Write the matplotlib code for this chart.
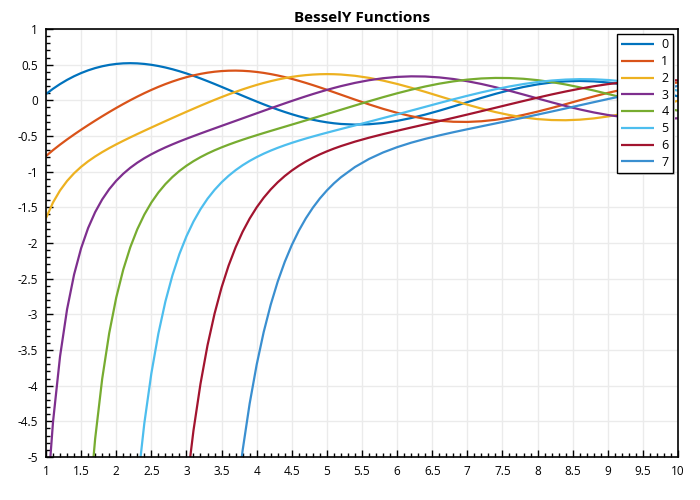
import matplotlib
matplotlib.use("Agg")
import matplotlib.pyplot as plt
from matplotlib.ticker import MultipleLocator, FuncFormatter

x = [1.0, 1.1, 1.2, 1.3, 1.4, 1.5, 1.6, 1.7, 1.8, 1.9,
     2.0, 2.1, 2.2, 2.3, 2.4, 2.5, 2.6, 2.7, 2.8, 2.9,
     3.0, 3.1, 3.2, 3.3, 3.4, 3.5, 3.6, 3.7, 3.8, 3.9,
     4.0, 4.1, 4.2, 4.3, 4.4, 4.5, 4.6, 4.7, 4.8, 4.9,
     5.0, 5.1, 5.2, 5.4, 5.6, 5.8, 6.0, 6.2, 6.4, 6.6,
     6.8, 7.0, 7.2, 7.4, 7.6, 7.8, 8.0, 8.2, 8.4, 8.6,
     8.8, 9.0, 9.2, 9.4, 9.6, 9.8, 10.0]

y0 = [0.0883, 0.1622, 0.2281, 0.2866, 0.3379, 0.3824, 0.4204, 0.4520, 0.4774, 0.4968,
      0.5104, 0.5183, 0.5208, 0.5181, 0.5104, 0.4981, 0.4813, 0.4605, 0.4359, 0.4079,
      0.3769, 0.3432, 0.3071, 0.2691, 0.2296, 0.1890, 0.1477, 0.1061, 0.0645, 0.0234,
      -0.0169, -0.0561, -0.0938, -0.1296, -0.1633, -0.1947, -0.2235, -0.2494, -0.2723, -0.2920,
      -0.3085, -0.3216, -0.3313, -0.3402, -0.3354, -0.3177, -0.2882, -0.2483, -0.2000, -0.1452,
      -0.0864, -0.0259, 0.0339, 0.0907, 0.1424, 0.1872, 0.2235, 0.2501, 0.2662, 0.2715,
      0.2659, 0.2499, 0.2245, 0.1908, 0.1505, 0.1052, 0.0557]

y1 = [-0.7812, -0.6981, -0.6211, -0.5485, -0.4791, -0.4123, -0.3476, -0.2848, -0.2237, -0.1644,
      -0.1070, -0.0517, 0.0015, 0.0523, 0.1005, 0.1459, 0.1884, 0.2276, 0.2635, 0.2959,
      0.3247, 0.3496, 0.3707, 0.3878, 0.4010, 0.4102, 0.4154, 0.4167, 0.4141, 0.4078,
      0.3979, 0.3846, 0.3680, 0.3484, 0.3260, 0.3010, 0.2737, 0.2444, 0.2135, 0.1812,
      0.1479, 0.1138, 0.0792, 0.0102, -0.0569, -0.1194, -0.1750, -0.2223, -0.2596, -0.2859,
      -0.3002, -0.3027, -0.2935, -0.2731, -0.2429, -0.2040, -0.1581, -0.1073, -0.0537, 0.0011,
      0.0542, 0.1043, 0.1489, 0.1864, 0.2154, 0.2380, 0.2490]

y2 = [-1.6507, -1.4315, -1.2633, -1.1304, -1.0223, -0.9321, -0.8549, -0.7871, -0.7260, -0.6699,
      -0.6174, -0.5675, -0.5194, -0.4726, -0.4266, -0.3813, -0.3364, -0.2919, -0.2477, -0.2038,
      -0.1604, -0.1177, -0.0754, -0.0341, 0.0063, 0.0454, 0.0831, 0.1191, 0.1534, 0.1857,
      0.2159, 0.2437, 0.2690, 0.2916, 0.3115, 0.3285, 0.3425, 0.3534, 0.3613, 0.3660,
      0.3677, 0.3662, 0.3618, 0.3440, 0.3151, 0.2765, 0.2299, 0.1766, 0.1189, 0.0586,
      -0.0019, -0.0605, -0.1154, -0.1645, -0.2063, -0.2395, -0.2630, -0.2763, -0.2790, -0.2712,
      -0.2536, -0.2267, -0.1921, -0.1511, -0.1056, -0.0566, -0.0059]

y3 = [-5.8216, -4.5074, -3.5899, -2.9297, -2.4418, -2.0733, -1.7897, -1.5672, -1.3896, -1.2459,
      -1.1278, -1.0293, -0.9459, -0.8742, -0.8115, -0.7560, -0.7059, -0.6600, -0.6174, -0.5770,
      -0.5386, -0.5015, -0.4650, -0.4291, -0.3936, -0.3583, -0.3231, -0.2879, -0.2526, -0.2173,
      -0.1820, -0.1468, -0.1118, -0.0771, -0.0428, -0.0090, 0.0241, 0.0564, 0.0876, 0.1176,
      0.1463, 0.1734, 0.1991, 0.2446, 0.2820, 0.3101, 0.3283, 0.3362, 0.3339, 0.3214,
      0.2991, 0.2681, 0.2294, 0.1842, 0.1343, 0.0812, 0.0266, -0.0275, -0.0792, -0.1272,
      -0.1695, -0.2051, -0.2324, -0.2507, -0.2594, -0.2611, -0.2514]

# starts at x = 1.5
y4 = [-7.3611, -5.8565, -4.7442, -3.9060, -3.2645,
      -2.7660, -2.3734, -2.0603, -1.8079, -1.6022, -1.4331, -1.2926, -1.1748, -1.0753, -0.9900,
      -0.9168, -0.8529, -0.7965, -0.7461, -0.7009, -0.6596, -0.6216, -0.5860, -0.5522, -0.5200,
      -0.4889, -0.4585, -0.4287, -0.3992, -0.3699, -0.3405, -0.3111, -0.2814, -0.2518, -0.2220,
      -0.1921, -0.1622, -0.1321, -0.0722, -0.0130, 0.0443, 0.0984, 0.1488, 0.1941, 0.2336,
      0.2658, 0.2903, 0.3066, 0.3139, 0.3123, 0.3020, 0.2830, 0.2562, 0.2224, 0.1825,
      0.1380, 0.0900, 0.0405, -0.0089, -0.0565, -0.1033, -0.1449]

# starts at x = 2.2
y5 = [-6.5461, -5.4142, -4.5292, -3.8299, -3.2713, -2.8209, -2.4549, -2.1540,
      -1.9062, -1.6995, -1.5263, -1.3796, -1.2556, -1.1494, -1.0582, -0.9791, -0.9099, -0.8494,
      -0.7958, -0.7478, -0.7048, -0.6656, -0.6297, -0.5963, -0.5651, -0.5354, -0.5073, -0.4800,
      -0.4537, -0.4278, -0.4023, -0.3516, -0.3006, -0.2490, -0.1971, -0.1442, -0.0913, -0.0382,
      0.0136, 0.0637, 0.1113, 0.1551, 0.1944, 0.2285, 0.2564, 0.2775, 0.2910, 0.2970,
      0.2950, 0.2851, 0.2676, 0.2431, 0.2123, 0.1768, 0.1355]

# starts at x = 2.9
y6 = [-6.4376,
      -5.4372, -4.6294, -3.9732, -3.4345, -2.9920, -2.6244, -2.3178, -2.0602, -1.8423, -1.6579,
      -1.5006, -1.3654, -1.2494, -1.1487, -1.0612, -0.9846, -0.9174, -0.8577, -0.8051, -0.7576,
      -0.7153, -0.6766, -0.6416, -0.5789, -0.5238, -0.4736, -0.4269, -0.3814, -0.3368, -0.2915,
      -0.2458, -0.1993, -0.1520, -0.1043, -0.0565, -0.0091, 0.0375, 0.0822, 0.1240, 0.1628,
      0.1972, 0.2268, 0.2504, 0.2675, 0.2776, 0.2837, 0.2804]

# starts at x = 3.6
y7 = [-6.6678, -5.7026, -4.9079, -4.2518,
      -3.7060, -3.2485, -2.8649, -2.5401, -2.2645, -2.0293, -1.8281, -1.6545, -1.5055, -1.3753,
      -1.2630, -1.1642, -1.0783, -0.9348, -0.8218, -0.7309, -0.6567, -0.5940, -0.5402, -0.4918,
      -0.4474, -0.4054, -0.3646, -0.3242, -0.2836, -0.2425, -0.2001, -0.1572, -0.1139, -0.0698,
      -0.0261, 0.0173, 0.0590, 0.0984, 0.1347, 0.1706, 0.2010]

series = [y0, y1, y2, y3, y4, y5, y6, y7]
labels = ["0", "1", "2", "3", "4", "5", "6", "7"]
colors = ["#0072BD", "#D95319", "#EDB120", "#7E2F8E", "#77AC30",
          "#4DBEEE", "#A2142F", "#3A8FD0"]

plt.rcParams['font.family'] = ['Open Sans', 'DejaVu Sans']

fig = plt.figure(figsize=(7, 5), dpi=100)
ax = fig.add_axes([46/700, 1 - 457/500, (678 - 46)/700, (457 - 29)/500])

for ys, lab, col in zip(series, labels, colors):
    xs = x[len(x) - len(ys):]
    ax.plot(xs, ys, color=col, lw=1.6, label=lab, solid_capstyle='butt')

ax.set_xlim(1, 10)
ax.set_ylim(-5, 1)
ax.xaxis.set_major_locator(MultipleLocator(0.5))
ax.xaxis.set_minor_locator(MultipleLocator(0.1))
ax.yaxis.set_major_locator(MultipleLocator(0.5))
ax.yaxis.set_minor_locator(MultipleLocator(0.1))
fmt = FuncFormatter(lambda v, p: ("%g" % round(v, 2)) if abs(v) > 1e-9 else "0")
ax.xaxis.set_major_formatter(fmt)
ax.yaxis.set_major_formatter(fmt)
ax.tick_params(which='major', direction='in', length=5, width=1, labelsize=8.5, pad=6, color='black')
ax.tick_params(which='minor', direction='in', length=3, width=1, color='black')
ax.grid(True, which='major', color='#ebebeb', lw=1)
ax.set_axisbelow(True)
for s in ax.spines.values():
    s.set_linewidth(1.2)
    s.set_color('black')

ax.set_title("BesselY Functions", fontsize=11, fontweight='bold', pad=5)

leg = ax.legend(loc='upper right', bbox_to_anchor=(1 - 5/632, 1 - 5/428), borderaxespad=0,
                fontsize=9, frameon=True, fancybox=False,
                shadow={'ox': 1.2, 'oy': -1.2, 'facecolor': '#d4d4d4', 'edgecolor': 'none', 'alpha': 1},
                handlelength=2.6, handletextpad=0.6, labelspacing=0.3, borderpad=0.35)
leg.get_frame().set_edgecolor('black')
leg.get_frame().set_linewidth(1)
leg.get_frame().set_alpha(1)

fig.savefig("out.png", dpi=100)
